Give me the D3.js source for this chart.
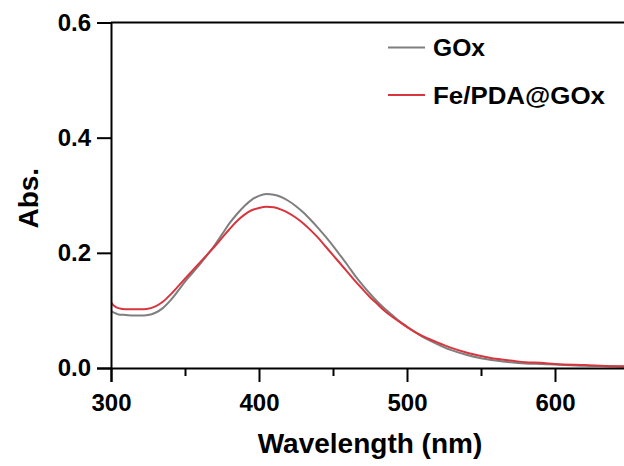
<!DOCTYPE html>
<html>
<head>
<meta charset="utf-8">
<script src="https://cdn.jsdelivr.net/npm/d3@7"></script>
<style>
  html, body { margin: 0; padding: 0; background: #fff; }
  svg { display: block; }
  text { font-family: "Liberation Sans", Arial, Helvetica, sans-serif; font-weight: bold; fill: #000; }
</style>
</head>
<body>
<svg id="chart" width="624" height="466"></svg>
<script>
// UV-vis absorbance spectra
const wavelength = [300, 302, 305, 310, 315, 320, 325, 330, 335, 340, 345, 350, 355, 360, 365, 370, 375, 380, 385, 390,
  395, 400, 405, 410, 415, 420, 425, 430, 435, 440, 445, 450, 455, 460, 465, 470, 475, 480, 485, 490,
  495, 500, 510, 520, 530, 540, 550, 560, 570, 580, 590, 600, 620, 640, 650];

const absGOx = [0.099, 0.096, 0.093, 0.092, 0.091, 0.091, 0.092, 0.096, 0.104, 0.117, 0.133, 0.150, 0.165, 0.180, 0.196, 0.213, 0.232, 0.251, 0.267, 0.281,
  0.292, 0.299, 0.302, 0.301, 0.297, 0.290, 0.281, 0.270, 0.257, 0.243, 0.228, 0.212, 0.195, 0.178, 0.160, 0.144, 0.129, 0.115, 0.103, 0.092,
  0.081, 0.072, 0.055, 0.042, 0.031, 0.023, 0.017, 0.013, 0.010, 0.008, 0.007, 0.006, 0.004, 0.003, 0.002];

const absFePDAGOx = [0.114, 0.108, 0.104, 0.102, 0.102, 0.102, 0.103, 0.107, 0.115, 0.127, 0.141, 0.155, 0.169, 0.183, 0.197, 0.211, 0.226, 0.241, 0.255, 0.266,
  0.274, 0.278, 0.280, 0.279, 0.275, 0.269, 0.261, 0.251, 0.239, 0.226, 0.211, 0.196, 0.181, 0.166, 0.151, 0.137, 0.123, 0.111, 0.099, 0.089,
  0.080, 0.071, 0.056, 0.045, 0.035, 0.027, 0.021, 0.016, 0.013, 0.010, 0.009, 0.007, 0.005, 0.003, 0.003];

const seriesNames = ["GOx", "Fe/PDA@GOx"];
const seriesColors = ["#7f7f7f", "#d8363e"];

const xMajorTicks = [300, 400, 500, 600];
const xMinorTicks = [350, 450, 550, 650];
const yTicks = [0.0, 0.2, 0.4, 0.6];

const svg = d3.select("#chart");
const plotLeft = 111, plotRight = 629, plotTop = 22.5, plotBottom = 368;

const x = d3.scaleLinear().domain([300, 650]).range([plotLeft, plotRight]);
const y = d3.scaleLinear().domain([0, 0.6]).range([plotBottom, plotTop]);

// clip path for spectra
svg.append("defs").append("clipPath").attr("id", "plotClip")
  .append("rect").attr("x", plotLeft).attr("y", plotTop)
  .attr("width", plotRight - plotLeft).attr("height", plotBottom - plotTop);

// spectra
const line = d3.line()
  .x((d, i) => x(wavelength[i]))
  .y(d => y(d))
  .curve(d3.curveMonotoneX);

[absGOx, absFePDAGOx].forEach((vals, k) => {
  svg.append("path")
    .attr("d", line(vals))
    .attr("fill", "none")
    .attr("stroke", seriesColors[k])
    .attr("stroke-width", 2)
    .attr("clip-path", "url(#plotClip)");
});

// frame (top and right edges)
svg.append("path")
  .attr("d", `M${plotLeft},${plotTop}H${plotRight}V${plotBottom}`)
  .attr("fill", "none").attr("stroke", "#000").attr("stroke-width", 2);

// x axis
svg.append("g").attr("transform", `translate(0,${plotBottom})`)
  .call(d3.axisBottom(x).tickValues(xMajorTicks).tickSize(14).tickPadding(12).tickFormat(d3.format("d")));
svg.append("g").attr("transform", `translate(0,${plotBottom})`)
  .call(d3.axisBottom(x).tickValues(xMinorTicks).tickSize(8).tickFormat(""))
  .call(g => g.select(".domain").remove());

// y axis
svg.append("g").attr("transform", `translate(${plotLeft},0)`)
  .call(d3.axisLeft(y).tickValues(yTicks).tickSize(14).tickPadding(6).tickFormat(d3.format(".1f")));

svg.selectAll(".domain").attr("stroke", "#000").attr("stroke-width", 2);
svg.selectAll(".tick line").attr("stroke", "#000").attr("stroke-width", 2);
svg.selectAll(".tick text")
  .attr("fill", "#000")
  .style("font-family", '"Liberation Sans", Arial, sans-serif')
  .style("font-weight", "bold")
  .style("font-size", "24px");

// axis titles
svg.append("text")
  .attr("x", (plotLeft + plotRight) / 2).attr("y", 453)
  .attr("text-anchor", "middle")
  .style("font-size", "28px")
  .text("Wavelength (nm)");

svg.append("text")
  .attr("transform", `translate(38,${(plotTop + plotBottom) / 2 + 3}) rotate(-90)`)
  .attr("text-anchor", "middle")
  .style("font-size", "28px")
  .text("Abs.");

// legend
const legendY = [47.5, 95];
const legendTextWidth = [52, 172];
seriesNames.forEach((name, k) => {
  svg.append("line")
    .attr("x1", 388).attr("x2", 425)
    .attr("y1", legendY[k]).attr("y2", legendY[k])
    .attr("stroke", seriesColors[k]).attr("stroke-width", 2);
  svg.append("text")
    .attr("x", 433).attr("y", legendY[k] + 8.5)
    .attr("textLength", legendTextWidth[k])
    .attr("lengthAdjust", "spacingAndGlyphs")
    .style("font-size", "24.5px")
    .text(name);
});
</script>
</body>
</html>
